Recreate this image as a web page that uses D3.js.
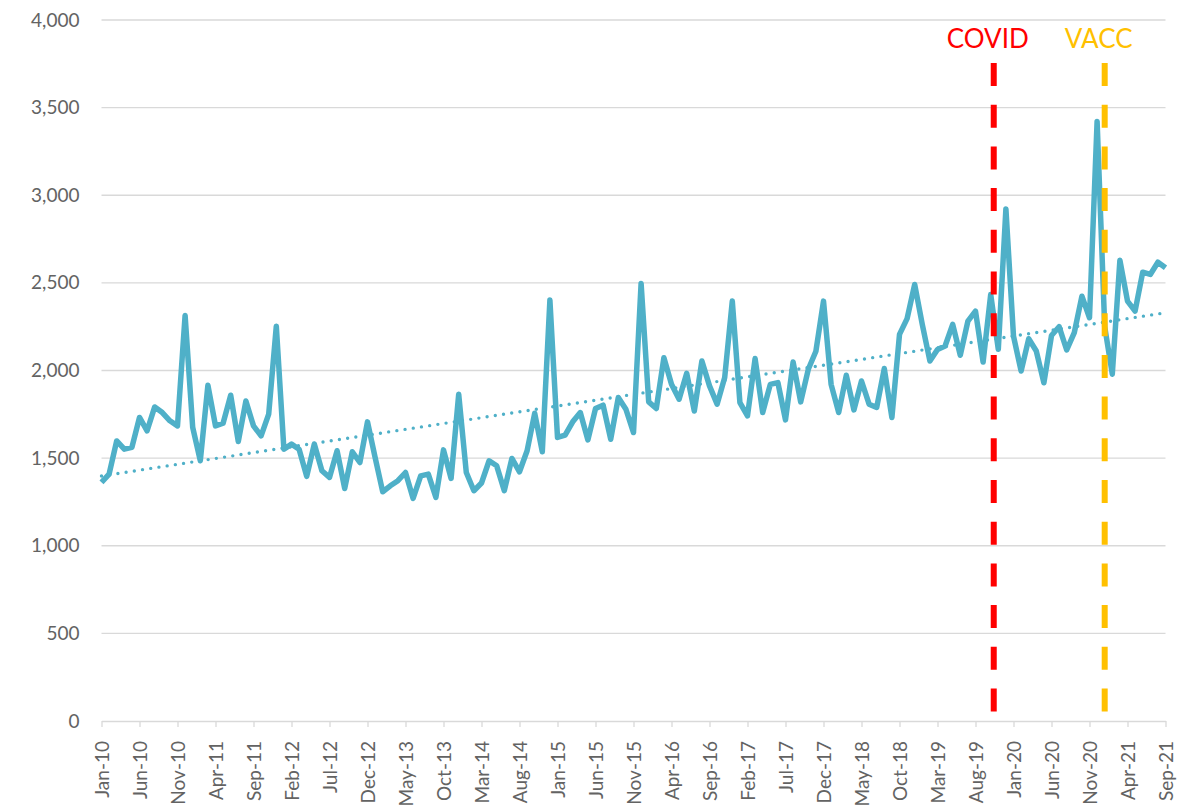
<!DOCTYPE html>
<html>
<head>
<meta charset="utf-8">
<script src="https://cdn.jsdelivr.net/npm/d3@7"></script>
<style>
  body { margin: 0; background: #fff; }
  svg { display: block; font-family: Lato, "Open Sans", sans-serif; }
</style>
</head>
<body>
<svg width="1199" height="808"></svg>
<script>
// monthly values, Jan-10 .. Sep-21
const values = [
  1362, 1409, 1598, 1551, 1561, 1732, 1656, 1792, 1760, 1713, 1684, 2314,
  1675, 1485, 1916, 1684, 1699, 1859, 1595, 1826, 1684, 1627, 1751, 2253,
  1551, 1580, 1551, 1396, 1580, 1428, 1390, 1542, 1327, 1536, 1475, 1707,
  1504, 1308, 1342, 1371, 1418, 1270, 1399, 1409, 1276, 1547, 1384, 1864,
  1418, 1314, 1358, 1485, 1456, 1314, 1498, 1422, 1542, 1756, 1536, 2402,
  1618, 1631, 1707, 1760, 1604, 1783, 1802, 1608, 1846, 1779, 1646, 2497,
  1821, 1783, 2073, 1921, 1836, 1984, 1769, 2054, 1912, 1808, 1960, 2396,
  1817, 1741, 2068, 1760, 1921, 1931, 1718, 2048, 1821, 2007, 2110, 2396,
  1921, 1760, 1973, 1775, 1940, 1808, 1789, 2011, 1732, 2206, 2296, 2491,
  2263, 2054, 2120, 2140, 2263, 2087, 2282, 2339, 2048, 2434, 2121, 2922,
  2196, 1997, 2181, 2111, 1930, 2200, 2250, 2117, 2216, 2424, 2301, 3421,
  2250, 1979, 2629, 2396, 2339, 2561, 2548, 2618, 2586
];

// every 5th month gets a label
const tickLabels = [
  'Jan-10', 'Jun-10', 'Nov-10', 'Apr-11', 'Sep-11', 'Feb-12', 'Jul-12', 'Dec-12',
  'May-13', 'Oct-13', 'Mar-14', 'Aug-14', 'Jan-15', 'Jun-15', 'Nov-15', 'Apr-16',
  'Sep-16', 'Feb-17', 'Jul-17', 'Dec-17', 'May-18', 'Oct-18', 'Mar-19', 'Aug-19',
  'Jan-20', 'Jun-20', 'Nov-20', 'Apr-21', 'Sep-21'
];
const tickStep = 5;

const yTicks = [0, 500, 1000, 1500, 2000, 2500, 3000, 3500, 4000];

// event markers (position in months from Jan-10)
const events = [
  { name: 'COVID', month: 117.4, color: '#FF0000' },
  { name: 'VACC', month: 132, color: '#FFC000' }
];

const svg = d3.select('svg');
const lineColor = '#4FB0C8';
const gridColor = '#d9d9d9';
const textColor = '#636363';

const x = d3.scaleLinear().domain([0, values.length - 1]).range([101.5, 1165.5]);
const y = d3.scaleLinear().domain([0, 4000]).range([721, 20]);

// gridlines
svg.append('g')
  .selectAll('line')
  .data(yTicks.filter(d => d > 0))
  .enter().append('line')
  .attr('x1', x(0)).attr('x2', x(values.length - 1))
  .attr('y1', d => y(d)).attr('y2', d => y(d))
  .attr('stroke', gridColor)
  .attr('stroke-width', 1.3);

// y axis labels
const yAxis = svg.append('g')
  .attr('transform', `translate(${x(0)},0)`)
  .call(d3.axisLeft(y).tickValues(yTicks).tickFormat(d3.format(',')).tickSize(0).tickPadding(22));
yAxis.select('.domain').remove();
yAxis.selectAll('text')
  .attr('fill', textColor)
  .attr('font-size', 19)
  .attr('font-family', 'Lato, sans-serif');

// x axis
const tickIdx = tickLabels.map((d, i) => i * tickStep);
const xAxis = svg.append('g')
  .attr('transform', `translate(0,${y(0)})`)
  .call(d3.axisBottom(x).tickValues(tickIdx).tickFormat((d, i) => tickLabels[i]).tickSize(6).tickSizeOuter(0));
xAxis.select('.domain').attr('stroke', gridColor).attr('stroke-width', 1.3);
xAxis.selectAll('.tick line').attr('stroke', gridColor).attr('stroke-width', 1.3);
xAxis.selectAll('text')
  .attr('fill', textColor)
  .attr('font-size', 19)
  .attr('font-family', 'Lato, sans-serif')
  .attr('transform', 'rotate(-90)')
  .attr('text-anchor', 'end')
  .attr('x', -20)
  .attr('y', 0)
  .attr('dy', '0.35em');

// linear trendline (least squares)
const n = values.length;
const mx = d3.mean(values, (d, i) => i);
const my = d3.mean(values);
const slope = d3.sum(values, (d, i) => (i - mx) * (d - my)) / d3.sum(values, (d, i) => (i - mx) * (i - mx));
const icept = my - slope * mx;

svg.append('line')
  .attr('x1', x(0)).attr('y1', y(icept))
  .attr('x2', x(n - 1)).attr('y2', y(icept + slope * (n - 1)))
  .attr('stroke', lineColor)
  .attr('stroke-width', 3.4)
  .attr('stroke-linecap', 'round')
  .attr('stroke-dasharray', '0 8.3');

// main series
const line = d3.line()
  .x((d, i) => x(i))
  .y(d => y(d));

svg.append('path')
  .datum(values)
  .attr('d', line)
  .attr('fill', 'none')
  .attr('stroke', lineColor)
  .attr('stroke-width', 5.5)
  .attr('stroke-linejoin', 'round');

// event lines + labels
const ev = svg.append('g').selectAll('g').data(events).enter().append('g');
ev.append('line')
  .attr('x1', d => x(d.month)).attr('x2', d => x(d.month))
  .attr('y1', 63).attr('y2', y(0))
  .attr('stroke', d => d.color)
  .attr('stroke-width', 6)
  .attr('stroke-dasharray', '23 18.7');
ev.append('text')
  .attr('x', d => x(d.month) - 6)
  .attr('y', 48)
  .attr('text-anchor', 'middle')
  .attr('fill', d => d.color)
  .attr('font-size', 26)
  .attr('font-family', 'Lato, sans-serif')
  .text(d => d.name);
</script>
</body>
</html>
